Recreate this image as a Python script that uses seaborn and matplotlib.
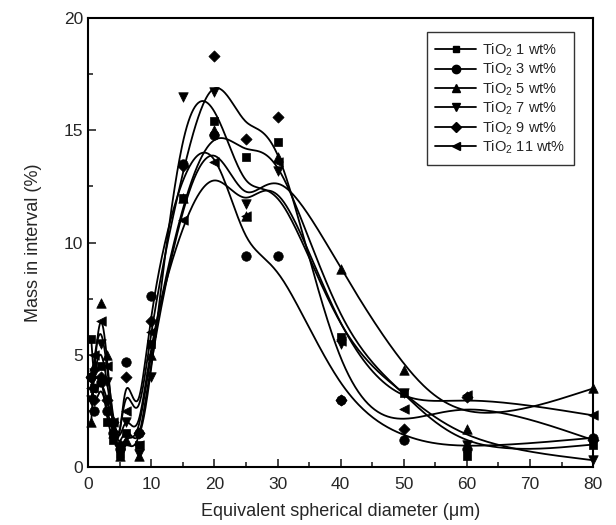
import numpy as np
import pandas as pd
import matplotlib
matplotlib.use('Agg')
import matplotlib.pyplot as plt
from matplotlib.lines import Line2D
from matplotlib.ticker import MultipleLocator
import seaborn as sns

# particle size classes (um)
diameter = [0.5, 1, 2, 3, 4, 5, 6, 8, 10, 15, 20, 25, 30, 40, 50, 60, 80]

# mass in interval (%) per TiO2 loading
tio2_1 = [5.7, 3.5, 4.5, 2.0, 1.2, 0.6, 1.5, 1.0, 5.5, 12.0, 15.4, 13.8, 14.5, 5.8, 3.3, 0.5, 1.0]
tio2_3 = [4.0, 2.5, 3.8, 2.5, 1.5, 0.8, 4.7, 1.5, 7.6, 13.5, 14.8, 9.4, 9.4, 3.0, 1.2, 0.8, 1.3]
tio2_5 = [2.0, 4.5, 7.3, 5.0, 1.5, 0.5, 1.2, 0.5, 5.0, 12.0, 15.0, 11.2, 13.8, 8.8, 4.3, 1.7, 3.5]
tio2_7 = [3.0, 4.2, 5.5, 3.8, 1.8, 0.8, 2.0, 0.6, 4.0, 16.5, 16.7, 11.7, 13.2, 5.5, 3.3, 1.0, 0.3]
tio2_9 = [4.0, 3.0, 4.0, 3.0, 2.0, 1.0, 4.0, 1.5, 6.5, 13.4, 18.3, 14.6, 15.6, 3.0, 1.7, 3.1, 1.2]
tio2_11 = [3.5, 5.0, 6.5, 4.5, 2.0, 1.0, 2.5, 1.0, 6.0, 11.0, 13.6, 11.2, 13.6, 5.6, 2.6, 3.2, 2.3]

labels = ['TiO$_2$ 1 wt%', 'TiO$_2$ 3 wt%', 'TiO$_2$ 5 wt%',
          'TiO$_2$ 7 wt%', 'TiO$_2$ 9 wt%', 'TiO$_2$ 11 wt%']
series = [tio2_1, tio2_3, tio2_5, tio2_7, tio2_9, tio2_11]
markers = ['s', 'o', '^', 'v', 'D', '<']
msizes = [5, 6, 6, 6, 5, 6]


def bspline(xs, ys, n=40):
    # uniform cubic B-spline with data as control points (Origin "B-Spline" style)
    px = np.r_[[xs[0]] * 2, xs, [xs[-1]] * 2]
    py = np.r_[[ys[0]] * 2, ys, [ys[-1]] * 2]
    t = np.linspace(0, 1, n)
    b0 = (1 - t) ** 3 / 6
    b1 = (3 * t ** 3 - 6 * t ** 2 + 4) / 6
    b2 = (-3 * t ** 3 + 3 * t ** 2 + 3 * t + 1) / 6
    b3 = t ** 3 / 6
    cx, cy = [], []
    for i in range(len(px) - 3):
        cx.append(b0 * px[i] + b1 * px[i + 1] + b2 * px[i + 2] + b3 * px[i + 3])
        cy.append(b0 * py[i] + b1 * py[i + 1] + b2 * py[i + 2] + b3 * py[i + 3])
    return np.concatenate(cx), np.concatenate(cy)


sns.set_style('ticks')
plt.rcParams['font.family'] = ['Liberation Sans', 'DejaVu Sans']
plt.rcParams['mathtext.fontset'] = 'custom'
plt.rcParams['mathtext.rm'] = 'Liberation Sans'

fig = plt.figure(figsize=(6.16, 5.25), dpi=100)
ax = fig.add_axes([0.143, 0.1105, 0.82, 0.855])

for lab, vals, m, ms in zip(labels, series, markers, msizes):
    cx, cy = bspline(np.array(diameter, float), np.array(vals, float))
    curve = pd.DataFrame({'x': cx, 'y': cy})
    sns.lineplot(data=curve, x='x', y='y', sort=False, color='black',
                 linewidth=1.3, ax=ax)
    pts = pd.DataFrame({'x': diameter, 'y': vals})
    sns.scatterplot(data=pts, x='x', y='y', marker=m, s=ms ** 2 * 1.3,
                    color='black', edgecolor='black', linewidth=0.5, ax=ax,
                    zorder=3, clip_on=False)

ax.set_xlim(0, 80)
ax.set_ylim(0, 20)
ax.xaxis.set_major_locator(MultipleLocator(10))
ax.xaxis.set_minor_locator(MultipleLocator(5))
ax.yaxis.set_major_locator(MultipleLocator(5))
ax.yaxis.set_minor_locator(MultipleLocator(2.5))
ax.tick_params(which='both', direction='in', width=1.2, labelsize=12.5)
ax.tick_params(which='major', length=6)
ax.tick_params(which='minor', length=3.5)
ax.tick_params(axis='x', pad=7)
for sp in ax.spines.values():
    sp.set_linewidth(1.5)
    sp.set_color('black')
ax.set_xlabel('Equivalent spherical diameter (\u03bcm)', fontsize=13, labelpad=8)
ax.set_ylabel('Mass in interval (%)', fontsize=13, labelpad=16)

handles = [Line2D([], [], color='black', lw=1.3, marker=m, markersize=ms)
           for m, ms in zip(markers, msizes)]
leg = ax.legend(handles, labels, loc='upper right', bbox_to_anchor=(0.962, 0.968),
                fontsize=10.5, frameon=True, fancybox=False, handlelength=2.8,
                labelspacing=0.12, borderpad=0.6, handletextpad=0.4,
                borderaxespad=0)
leg.get_frame().set_edgecolor('black')
leg.get_frame().set_linewidth(1.0)

plt.savefig('out.png', dpi=100)
